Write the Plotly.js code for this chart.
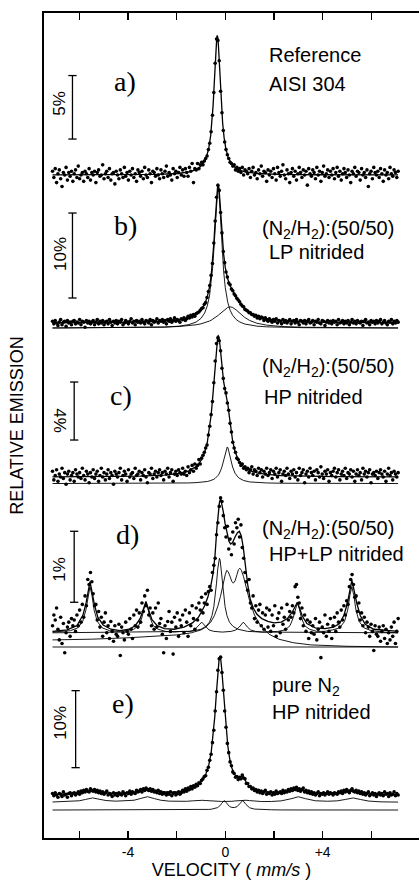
<!DOCTYPE html>
<html><head><meta charset="utf-8">
<script src="https://cdn.plot.ly/plotly-3.0.1.min.js"></script>
<style>html,body{margin:0;padding:0;background:#fff;}#chart{width:419px;height:881px;}</style>
</head><body><div id="chart"></div>
<script>
// ---------- DATA ----------
// channel grid (mm/s): first channel and step, 256 channels
const channelStart = -7.10;
const channelStep = 0.0557;

// a) Reference AISI 304  (relative emission, %)
const dataA = [
0.3,-0.2,0.5,-0.6,0.1,0.4,-0.3,-0.9,0.2,0.0,0.6,-0.4,0.2,-0.1,0.3,-0.5,
0.1,0.4,-0.2,0.7,-0.3,0.0,0.2,-0.5,0.3,0.1,-0.2,0.5,-0.4,0.2,0.0,0.3,
-0.6,0.2,0.4,-0.1,0.0,0.8,-0.3,0.1,0.3,-0.2,0.5,-0.4,0.1,0.2,-0.7,0.3,
0.0,-0.3,0.4,0.1,-0.2,0.6,-0.1,0.2,-0.4,0.3,0.0,0.5,-0.2,0.1,-0.5,0.4,
0.2,-0.1,0.3,-0.3,0.6,0.0,-0.2,0.4,0.1,-0.6,0.3,0.2,-0.1,0.5,0.0,-0.3,
0.4,0.1,-0.2,0.3,0.7,-0.1,0.2,0.0,-0.4,0.5,0.1,0.3,-0.2,0.2,0.6,0.0,
0.4,-0.1,0.5,0.2,-0.1,0.6,0.3,0.9,-0.6,0.5,0.4,0.9,0.5,0.8,1.0,0.8,
1.1,1.3,1.5,2.0,2.5,3.4,4.7,6.5,8.8,10.7,10.6,9.0,6.6,4.9,3.5,2.6,
2.0,1.6,1.3,1.0,0.9,0.7,0.8,0.4,0.6,0.3,0.5,0.2,0.6,0.0,0.4,0.3,
0.1,0.5,-0.2,0.3,0.6,0.0,0.2,-0.3,0.4,0.1,0.7,-0.1,0.3,0.2,-0.5,0.4,
0.0,0.3,-0.2,0.5,0.1,-0.4,0.6,0.2,-0.1,0.3,0.8,0.0,-0.3,0.4,0.1,-0.6,
0.2,0.5,-0.1,0.3,-0.4,0.1,0.6,0.2,-0.2,0.4,0.0,0.3,-0.8,0.5,0.1,-0.1,
0.4,0.2,-0.3,0.6,0.0,0.3,-0.5,0.2,0.7,-0.1,0.1,0.4,-0.2,0.3,0.0,0.5,
-0.3,0.2,0.6,-0.1,0.3,-0.4,0.1,0.5,0.2,-0.2,0.4,0.0,-0.6,0.3,0.1,0.6,
-0.1,0.3,0.2,-0.4,0.5,0.0,0.2,-0.2,0.4,-0.9,0.1,0.3,-0.3,0.6,0.2,0.0,
0.3,-0.2,0.5,0.1,-0.5,0.4,0.0,0.2,-0.3,0.6,0.1,-0.1,0.4,0.2,-0.2,0.3];
const fitAVel = [-7.1,-4.3,-2.83,-1.93,-1.43,-1.13,-0.93,-0.78,-0.68,-0.60,-0.55,-0.50,-0.45,-0.41,-0.38,-0.35,-0.33,-0.31,-0.28,-0.25,-0.21,-0.16,-0.11,-0.05,0.02,0.12,0.27,0.47,0.77,1.27,2.17,3.67,7.1];
const fitATotal = [0.01,0.02,0.05,0.12,0.26,0.48,0.82,1.38,2.10,3.12,4.11,5.50,7.34,9.01,10.12,10.85,11.00,10.85,10.12,9.01,7.34,5.50,4.11,2.96,2.10,1.38,0.82,0.48,0.26,0.12,0.05,0.02,0.01];

// b) (N2/H2):(50/50) LP nitrided
const dataB = [
0.2,-0.1,0.3,0.0,-0.3,0.1,0.4,-0.2,0.1,0.2,-0.4,0.3,0.0,0.1,-0.2,0.2,
0.3,-0.1,0.1,0.0,0.4,-0.2,0.2,0.1,-0.5,0.3,0.0,0.2,-0.1,0.1,0.3,-0.2,
0.1,0.4,-0.1,0.2,0.0,0.3,-0.2,0.1,0.2,-0.1,0.4,0.1,-0.3,0.2,0.0,0.3,
-0.1,0.2,0.1,0.4,-0.2,0.0,0.3,0.1,-0.1,0.2,0.5,0.0,0.2,-0.2,0.3,0.1,
0.2,0.0,0.4,0.1,-0.1,0.3,0.2,0.0,0.4,-0.2,0.3,0.1,0.2,0.5,0.0,0.3,
0.2,0.4,0.1,0.3,-0.1,0.4,0.2,0.5,0.1,0.3,0.6,0.2,0.4,0.3,0.1,0.5,
0.4,0.6,0.3,0.5,0.8,0.6,0.9,0.7,1.0,0.8,1.1,1.2,1.3,1.5,1.7,1.8,
2.2,2.4,3.0,3.7,4.4,5.6,7.0,9.4,12.0,14.8,16.2,15.6,13.0,10.6,8.4,7.1,
6.0,5.4,4.7,4.5,4.0,3.8,3.4,3.2,2.9,2.7,2.5,2.2,2.0,1.9,1.6,1.5,
1.4,1.2,1.2,1.0,1.0,0.8,0.9,0.6,0.8,0.5,0.7,0.6,0.3,0.6,0.4,0.2,
0.5,0.3,0.1,0.4,0.2,0.5,0.0,0.3,0.2,-0.1,0.4,0.1,0.3,0.0,0.2,0.4,
-0.1,0.2,0.3,0.0,0.4,0.1,-0.2,0.3,0.2,0.0,0.3,-0.1,0.2,0.4,0.0,0.1,
0.3,-0.2,0.2,0.1,0.4,0.0,-0.1,0.3,0.2,-0.3,0.1,0.3,0.0,0.2,-0.1,0.3,
0.1,0.2,-0.2,0.4,0.0,0.1,0.3,-0.1,0.2,0.0,0.3,-0.2,0.1,0.4,0.0,0.2,
-0.1,0.3,0.1,0.0,0.2,-0.3,0.2,0.4,0.0,0.1,-0.2,0.3,0.1,0.2,-0.1,0.3,
0.0,0.2,0.4,-0.1,0.1,0.3,0.0,-0.2,0.2,0.1,0.4,-0.1,0.2,0.0,0.3,0.1];
const fitBVel = [-7.1,-5,-3.5,-2.5,-1.9,-1.5,-1.2,-1.0,-0.85,-0.74,-0.65,-0.58,-0.52,-0.47,-0.42,-0.38,-0.34,-0.31,-0.29,-0.26,-0.22,-0.18,-0.13,-0.07,0.0,0.1,0.2,0.3,0.45,0.6,0.8,1.0,1.3,1.7,2.3,3.2,4.5,7.1];
const fitBTotal = [0.03,0.06,0.12,0.23,0.40,0.64,1.03,1.52,2.21,3.07,4.23,5.62,7.39,9.38,11.86,13.96,15.65,16.31,16.36,15.85,14.35,12.44,10.19,8.13,6.51,5.17,4.38,3.79,3.03,2.37,1.68,1.21,0.78,0.48,0.27,0.14,0.07,0.03];
const fitBNarrow = [-0.59,-0.57,-0.54,-0.48,-0.37,-0.19,0.11,0.54,1.17,2.01,3.18,4.63,6.49,8.61,11.27,13.51,15.30,15.95,15.95,15.30,13.51,11.27,8.61,6.14,4.15,2.45,1.49,0.91,0.40,0.11,-0.12,-0.25,-0.37,-0.45,-0.51,-0.55,-0.57,-0.59];
const fitBBroad = [-0.58,-0.57,-0.54,-0.48,-0.41,-0.32,-0.21,-0.10,0.02,0.13,0.23,0.33,0.43,0.51,0.61,0.69,0.78,0.85,0.90,0.98,1.08,1.19,1.32,1.48,1.65,1.83,1.90,1.83,1.53,1.13,0.65,0.30,-0.03,-0.25,-0.41,-0.50,-0.55,-0.58];

// c) (N2/H2):(50/50) HP nitrided
const dataC = [
0.4,-0.2,0.1,0.5,-0.3,0.2,0.0,0.6,-0.1,0.3,-0.5,0.2,0.4,-0.2,0.1,0.3,
-0.3,0.5,0.2,0.0,0.3,-0.1,0.6,0.1,-0.2,0.4,0.2,-0.4,0.3,0.0,0.5,-0.1,
0.2,0.4,-0.3,0.1,0.6,0.0,0.3,-0.2,0.2,0.5,-0.1,0.3,0.1,-0.5,0.4,0.2,
0.0,0.3,0.6,-0.2,0.1,0.4,0.2,-0.3,0.5,0.0,0.2,0.3,-0.1,0.6,0.1,0.2,
0.4,-0.2,0.3,0.1,0.5,0.0,-0.4,0.3,0.2,0.6,-0.1,0.2,0.4,0.0,0.3,0.5,
0.1,0.3,-0.2,0.4,0.2,0.6,0.0,0.3,0.5,-0.3,0.2,0.4,0.1,0.5,0.3,0.2,
0.6,0.2,0.4,0.1,0.7,0.3,0.5,0.8,0.4,0.9,0.6,0.8,1.2,0.9,1.3,1.5,
1.7,2.0,2.2,2.9,3.5,4.3,5.2,6.5,8.0,9.2,9.6,9.4,8.7,7.5,6.8,6.1,
5.8,5.1,4.6,3.7,3.1,2.4,2.0,1.7,1.3,1.2,1.0,0.8,0.9,0.6,0.7,0.5,
0.6,0.3,0.5,0.7,0.2,0.5,0.4,0.1,0.6,0.3,0.5,0.0,0.4,0.2,0.6,0.1,
0.3,0.5,-0.1,0.4,0.2,0.6,0.0,0.3,0.5,-0.3,0.2,0.4,0.1,0.6,0.2,-0.1,
0.4,0.2,0.5,0.0,0.3,-0.2,0.6,0.1,0.3,0.5,-0.4,0.2,0.4,0.0,0.6,0.3,
0.1,0.4,-0.2,0.5,0.3,0.0,0.7,0.2,-0.1,0.4,0.2,0.5,-0.3,0.3,0.1,0.4,
0.6,0.0,0.3,0.5,-0.2,0.2,0.4,0.1,0.6,-0.1,0.3,0.2,0.5,0.0,0.4,-0.3,
0.2,0.5,0.1,0.3,-0.2,0.6,0.2,0.4,0.0,0.3,0.5,-0.4,0.2,0.3,0.1,0.4,
-0.1,0.3,0.5,0.2,0.0,0.4,-0.3,0.2,0.6,0.1,0.3,-0.2,0.4,0.2,0.0,0.3];
const fitCVel = [-7.1,-5,-3.5,-2.5,-1.9,-1.5,-1.2,-1.0,-0.85,-0.74,-0.65,-0.58,-0.52,-0.47,-0.42,-0.38,-0.34,-0.31,-0.29,-0.26,-0.22,-0.18,-0.13,-0.07,0.0,0.05,0.08,0.11,0.16,0.22,0.3,0.4,0.55,0.75,1.0,1.3,1.7,2.3,3.2,4.5,7.1];
const fitCTotal = [0.01,0.03,0.06,0.13,0.25,0.42,0.72,1.12,1.69,2.38,3.29,4.29,5.44,6.58,7.83,8.75,9.44,9.71,9.75,9.62,9.12,8.42,7.49,6.59,5.94,5.57,5.30,4.95,4.27,3.42,2.50,1.75,1.12,0.70,0.44,0.29,0.18,0.10,0.06,0.03,0.01];
const fitCSecond = [-0.45,-0.45,-0.44,-0.44,-0.42,-0.41,-0.39,-0.37,-0.34,-0.31,-0.27,-0.24,-0.20,-0.16,-0.10,-0.05,0.02,0.08,0.12,0.20,0.33,0.49,0.75,1.16,1.72,2.01,2.07,2.01,1.72,1.24,0.69,0.26,-0.06,-0.24,-0.34,-0.38,-0.41,-0.43,-0.44,-0.45,-0.45];

// d) (N2/H2):(50/50) HP+LP nitrided
const dataD = [
0.30,0.45,0.38,0.55,0.25,0.10,0.42,0.05,0.33,-0.08,0.20,0.28,0.35,0.15,0.40,0.30,
0.38,0.22,0.45,0.30,0.52,0.35,0.60,0.42,0.72,0.58,0.95,0.88,1.05,0.92,0.75,0.58,
0.60,0.38,0.50,0.28,0.42,0.15,0.35,0.48,0.20,0.30,0.12,0.36,0.22,0.08,0.30,0.18,
0.15,0.32,-0.12,0.28,0.20,0.10,0.35,0.22,0.18,0.40,0.25,0.12,0.45,0.30,0.52,0.28,
0.48,0.35,0.62,0.50,0.72,0.58,0.80,0.45,0.55,0.30,0.48,0.25,0.55,0.28,0.62,0.33,
0.40,0.18,-0.08,0.30,0.12,0.36,0.50,0.22,0.35,-0.10,0.42,0.28,0.48,0.15,0.38,0.30,
0.45,0.20,0.52,0.35,0.15,0.48,0.30,0.58,0.40,0.25,0.55,0.38,0.62,0.52,0.70,0.48,
0.62,0.75,0.60,0.78,0.85,0.80,1.05,1.15,1.25,1.58,1.75,1.98,2.10,2.05,1.85,1.68,
1.55,1.70,1.38,1.52,1.30,1.62,1.45,1.75,1.68,1.80,1.55,1.72,1.40,1.25,1.05,0.92,
0.80,0.95,0.62,0.55,0.72,0.40,0.58,0.35,0.52,0.60,0.30,0.48,0.25,0.45,0.55,0.28,
0.52,0.22,0.45,0.30,0.58,0.15,0.40,0.48,0.20,0.55,0.32,0.42,0.25,0.60,0.38,0.50,
0.42,0.58,0.48,0.85,0.88,0.70,0.62,0.40,0.55,0.30,0.45,0.22,0.38,0.12,0.35,0.20,
0.30,0.18,0.40,0.10,0.25,0.35,-0.15,0.28,0.20,0.45,0.15,0.32,0.22,0.40,0.12,0.30,
0.42,0.22,0.48,0.35,0.28,0.52,0.38,0.58,0.45,0.65,0.60,0.85,0.95,1.02,0.88,0.70,
0.72,0.50,0.62,0.38,0.48,0.30,0.42,0.20,0.35,0.28,0.15,0.32,0.22,-0.05,0.30,0.18,
0.15,0.28,0.08,0.22,0.30,0.12,0.25,0.05,0.20,0.10,0.28,0.15,0.35,0.05,0.22,0.40];
const fitDVel = [-7.1,-6.5,-6.1,-5.85,-5.72,-5.63,-5.56,-5.49,-5.38,-5.24,-5.02,-4.7,-4.33,-3.95,-3.7,-3.5,-3.37,-3.26,-3.15,-3.02,-2.8,-2.5,-2.1,-1.7,-1.35,-1.1,-0.97,-0.85,-0.72,-0.6,-0.49,-0.42,-0.35,-0.29,-0.24,-0.19,-0.14,-0.08,-0.01,0.07,0.15,0.22,0.3,0.4,0.5,0.58,0.66,0.74,0.83,0.92,1.02,1.15,1.3,1.5,1.75,2.0,2.3,2.55,2.75,2.88,2.96,3.05,3.16,3.35,3.7,4.1,4.45,4.7,4.88,5.02,5.12,5.2,5.28,5.4,5.55,5.75,6.1,6.6,7.1];
const fitDTotal = [0.22,0.24,0.30,0.45,0.62,0.80,0.92,0.80,0.60,0.42,0.31,0.25,0.23,0.25,0.30,0.40,0.53,0.64,0.52,0.39,0.30,0.26,0.25,0.28,0.34,0.42,0.50,0.58,0.70,0.85,1.06,1.30,1.65,1.90,2.04,2.09,2.02,1.90,1.74,1.60,1.49,1.45,1.47,1.55,1.61,1.63,1.56,1.40,1.12,0.88,0.68,0.55,0.46,0.40,0.36,0.34,0.35,0.40,0.49,0.58,0.63,0.55,0.44,0.33,0.27,0.26,0.28,0.33,0.45,0.62,0.82,0.94,0.82,0.62,0.44,0.32,0.25,0.23,0.22];
const sextetDVel = [-7.1,-6.36,-6.06,-5.86,-5.73,-5.64,-5.56,-5.48,-5.39,-5.26,-5.06,-4.76,-4.41,-4.06,-3.76,-3.56,-3.43,-3.34,-3.26,-3.18,-3.09,-2.96,-2.76,-2.46,-2.1,-1.77,-1.47,-1.27,-1.14,-1.05,-0.97,-0.89,-0.8,-0.67,-0.47,-0.12,0.24,0.44,0.57,0.66,0.74,0.82,0.91,1.04,1.24,1.54,1.85,2.16,2.46,2.66,2.79,2.88,2.96,3.04,3.13,3.26,3.46,3.76,4.08,4.4,4.7,4.9,5.03,5.12,5.2,5.28,5.37,5.5,5.7,6.0,6.5,7.1];
const sextetD = [0.21,0.23,0.27,0.36,0.52,0.73,0.85,0.73,0.52,0.36,0.27,0.23,0.22,0.23,0.25,0.30,0.41,0.54,0.62,0.54,0.41,0.30,0.25,0.22,0.21,0.22,0.22,0.24,0.28,0.32,0.35,0.32,0.28,0.24,0.22,0.21,0.22,0.24,0.28,0.32,0.35,0.32,0.28,0.24,0.22,0.21,0.21,0.22,0.24,0.30,0.41,0.54,0.62,0.54,0.41,0.30,0.25,0.22,0.22,0.24,0.27,0.36,0.52,0.73,0.85,0.73,0.52,0.36,0.27,0.23,0.21,0.20];
const singletDVel = [-7.1,-2.0,-1.4,-1.0,-0.8,-0.65,-0.55,-0.47,-0.41,-0.36,-0.31,-0.27,-0.24,-0.21,-0.17,-0.12,-0.07,-0.01,0.07,0.17,0.32,0.52,0.92,1.52,7.1];
const singletD = [0.20,0.21,0.22,0.25,0.29,0.35,0.44,0.57,0.73,0.90,1.10,1.22,1.25,1.22,1.10,0.90,0.73,0.57,0.44,0.35,0.29,0.25,0.22,0.21,0.20];
const doubletDVel = [-7.1,-5.5,-4.0,-3.0,-2.0,-1.4,-1.0,-0.8,-0.6,-0.45,-0.3,-0.2,-0.1,0.0,0.06,0.12,0.2,0.27,0.33,0.4,0.48,0.54,0.6,0.66,0.75,0.85,1.0,1.2,1.45,1.8,2.2,2.8,3.5,5.0,7.1];
const doubletD = [0.10,0.11,0.13,0.15,0.17,0.20,0.24,0.28,0.35,0.44,0.58,0.71,0.88,1.02,1.08,1.06,0.99,0.92,0.90,0.93,1.02,1.09,1.11,1.08,0.99,0.84,0.65,0.45,0.30,0.18,0.11,0.06,0.03,0.01,0.0];
const baseDVel = [-7.1, 7.1];
const baseD = [0.0, 0.0];

// e) pure N2 HP nitrided
const dataE = [
0.2,-0.1,0.3,0.0,-0.3,0.2,0.1,-0.2,0.4,0.0,0.1,-0.3,0.2,0.3,-0.1,0.2,
0.3,0.0,0.2,0.4,0.1,0.5,0.3,0.6,0.4,0.7,0.5,0.4,0.8,0.6,0.5,0.7,
0.4,0.6,0.3,0.5,0.2,0.4,0.1,0.3,0.5,0.0,0.2,0.1,-0.2,0.3,0.0,0.2,
-0.1,0.3,0.1,0.0,0.4,0.2,-0.1,0.3,0.2,0.5,0.1,0.4,0.3,0.2,0.6,0.4,
0.5,0.7,0.4,0.8,0.6,0.9,0.7,0.6,0.8,0.5,0.7,0.4,0.5,0.3,0.6,0.2,
0.4,0.1,0.3,0.2,0.0,0.3,0.1,0.4,-0.1,0.2,0.3,0.0,0.2,0.4,0.1,0.3,
0.6,0.4,0.8,0.5,0.9,0.7,1.1,0.8,1.2,1.0,1.4,1.2,1.6,1.5,1.9,2.1,
2.4,2.5,3.2,3.6,4.5,5.3,6.8,8.4,10.9,13.4,16.2,17.7,17.9,15.9,13.6,10.9,
8.8,6.7,5.5,4.3,3.8,3.0,2.8,2.3,2.4,2.0,2.3,2.1,2.6,2.2,2.1,1.5,
1.5,1.1,1.1,0.8,0.9,0.6,0.7,0.4,0.6,0.3,0.5,0.2,0.4,0.6,0.1,0.3,
0.2,0.4,0.0,0.3,0.1,0.5,0.2,0.3,0.4,0.2,0.6,0.3,0.5,0.4,0.7,0.5,
0.8,0.6,0.9,0.7,1.0,0.6,0.8,0.5,0.7,0.9,0.4,0.6,0.3,0.5,0.2,0.4,
0.1,0.3,0.0,0.2,0.4,-0.1,0.2,0.1,0.3,0.0,0.2,0.4,0.1,0.3,0.2,0.0,
0.3,0.2,0.1,0.4,0.3,0.5,0.2,0.6,0.4,0.7,0.5,0.3,0.6,0.8,0.5,0.4,
0.6,0.3,0.5,0.2,0.4,0.1,0.3,0.0,0.2,0.4,-0.1,0.1,0.3,0.0,0.2,-0.2,
0.1,0.3,0.0,0.2,-0.1,0.4,0.1,0.2,-0.2,0.3,0.0,0.1,0.4,-0.1,0.2,0.0];
const fitEVel = [-7.1,-6.5,-6.0,-5.75,-5.45,-5.15,-4.9,-4.5,-4.0,-3.75,-3.5,-3.2,-2.9,-2.65,-2.3,-1.9,-1.6,-1.3,-1.1,-0.95,-0.8,-0.68,-0.58,-0.5,-0.43,-0.37,-0.32,-0.28,-0.25,-0.22,-0.19,-0.15,-0.1,-0.04,0.03,0.1,0.18,0.27,0.37,0.48,0.6,0.72,0.85,1.0,1.2,1.5,1.9,2.3,2.7,3.0,3.3,3.7,4.2,4.6,4.95,5.25,5.55,5.9,6.4,7.1];
const fitETotal = [0.06,0.10,0.23,0.40,0.60,0.42,0.27,0.20,0.25,0.34,0.57,0.83,0.60,0.43,0.36,0.43,0.62,0.99,1.43,1.91,2.73,3.87,5.51,7.60,10.22,13.06,15.51,17.11,17.84,18.03,17.67,16.49,14.41,11.67,8.73,6.46,4.71,3.51,2.72,2.29,2.29,2.49,1.74,1.10,0.71,0.45,0.34,0.35,0.57,0.81,0.54,0.26,0.19,0.23,0.41,0.60,0.40,0.19,0.09,0.05];
const fitESextet = [-0.91,-0.87,-0.75,-0.58,-0.38,-0.57,-0.72,-0.80,-0.77,-0.68,-0.47,-0.22,-0.48,-0.68,-0.80,-0.85,-0.82,-0.75,-0.69,-0.69,-0.72,-0.76,-0.79,-0.81,-0.82,-0.83,-0.84,-0.84,-0.84,-0.84,-0.84,-0.84,-0.84,-0.85,-0.85,-0.85,-0.84,-0.82,-0.78,-0.74,-0.69,-0.66,-0.68,-0.73,-0.80,-0.85,-0.84,-0.76,-0.49,-0.23,-0.48,-0.75,-0.81,-0.76,-0.57,-0.38,-0.58,-0.79,-0.89,-0.92];
const fitEDoublet = [-1.95,-1.95,-1.95,-1.95,-1.95,-1.95,-1.95,-1.95,-1.95,-1.95,-1.95,-1.94,-1.94,-1.94,-1.94,-1.94,-1.93,-1.93,-1.92,-1.91,-1.89,-1.87,-1.85,-1.81,-1.77,-1.71,-1.64,-1.57,-1.49,-1.40,-1.28,-1.09,-0.84,-0.72,-0.96,-1.28,-1.51,-1.61,-1.63,-1.52,-1.16,-0.71,-1.23,-1.66,-1.83,-1.90,-1.92,-1.94,-1.94,-1.94,-1.95,-1.95,-1.95,-1.95,-1.95,-1.95,-1.95,-1.95,-1.95,-1.95];

// labels
const panelLetters = ['a)', 'b)', 'c)', 'd)', 'e)'];
const scaleBarPercent = [5, 10, 4, 1, 10];
const sampleLine1 = ['Reference', '(N<sub>2</sub>/H<sub>2</sub>):(50/50)', '(N<sub>2</sub>/H<sub>2</sub>):(50/50)', '(N<sub>2</sub>/H<sub>2</sub>):(50/50)', 'pure N<sub>2</sub>'];
const sampleLine2 = ['AISI 304', 'LP nitrided', 'HP nitrided', 'HP+LP nitrided', 'HP nitrided'];
const tickValues = [-6, -4, -2, 0, 2, 4, 6];
const tickLabels = ['', '-4', '', '0', '', '+4', ''];

// ---------- LAYOUT GEOMETRY (pixels) ----------
const W = 419, H = 881, ML = 44, MR = 0, MT = 13, MB = 43;
const plotTop = MT, plotBottom = H - MB, plotH = plotBottom - plotTop, plotW = W - ML - MR;
const zeroPx = [175, 323, 477, 647, 795];     // baseline pixel of each panel
const pxPerPct = [12.7, 8.5, 14.5, 71, 7.7];  // vertical scale of each panel
const barX = [-6.28, -6.28, -6.21, -6.21, -6.15];
const barBase = [2.83, 2.94, 2.55, 0.63, 3.55];
const barLabelX = -6.80;
const barLabelY = [5.67, 8.1, 3.86, 1.1, 9.35];
const barLabelAngle = [-90, -90, 90, -90, -90];
const letterPos = [[125, 82], [125, 225], [121, 395], [127, 534], [123, 703]];
const line1Pos = [[267, 55], [260, 229], [260, 367], [260, 529], [270, 686]];
const line2Pos = [[267, 84], [267, 252], [262, 397], [267, 554], [270, 712]];
const px2paperX = px => (px - ML) / plotW;
const px2paperY = py => (plotBottom - py) / plotH;
const axisName = i => i === 0 ? 'y' : 'y' + (i + 1);
const axisKey = i => i === 0 ? 'yaxis' : 'yaxis' + (i + 1);

// ---------- TRACES ----------
const traces = [];
function pts(y, i) {
  traces.push({type: 'scatter', mode: 'markers', x0: channelStart, dx: channelStep, y: y,
    yaxis: axisName(i), marker: {color: '#000', size: 3.6}, hoverinfo: 'skip'});
}
function curve(x, y, i, w) {
  traces.push({type: 'scatter', mode: 'lines', x: x, y: y, yaxis: axisName(i),
    line: {color: '#000', width: w}, hoverinfo: 'skip'});
}
pts(dataA, 0); curve(fitAVel, fitATotal, 0, 1.3);
pts(dataB, 1); curve(fitBVel, fitBTotal, 1, 1.3); curve(fitBVel, fitBNarrow, 1, 0.9); curve(fitBVel, fitBBroad, 1, 0.9);
pts(dataC, 2); curve(fitCVel, fitCTotal, 2, 1.3); curve(fitCVel, fitCSecond, 2, 0.9);
pts(dataD, 3); curve(fitDVel, fitDTotal, 3, 1.3); curve(sextetDVel, sextetD, 3, 0.9);
curve(singletDVel, singletD, 3, 0.9); curve(doubletDVel, doubletD, 3, 0.9); curve(baseDVel, baseD, 3, 0.9);
pts(dataE, 4); curve(fitEVel, fitETotal, 4, 1.3); curve(fitEVel, fitESextet, 4, 0.9); curve(fitEVel, fitEDoublet, 4, 0.9);

// ---------- LAYOUT ----------
const layout = {
  width: W, height: H, margin: {l: ML, r: MR, t: MT, b: MB, pad: 0},
  paper_bgcolor: '#fff', plot_bgcolor: '#fff', showlegend: false,
  font: {family: 'Liberation Sans, Arial, sans-serif', color: '#000'},
  xaxis: {range: [-7.45, 7.96], tickvals: tickValues, ticktext: tickLabels,
    ticks: 'inside', ticklen: 7, tickwidth: 1.5, tickcolor: '#000',
    showline: true, linecolor: '#000', linewidth: 2, mirror: 'ticks',
    showgrid: false, zeroline: false, tickfont: {size: 14}, anchor: 'y',
    title: {text: 'VELOCITY ( <i>mm/s</i> )', font: {size: 18}, standoff: 2}},
  shapes: [], annotations: []
};
for (let i = 0; i < 5; i++) {
  const lo = -(plotBottom - zeroPx[i]) / pxPerPct[i];
  const hi = (zeroPx[i] - plotTop) / pxPerPct[i];
  const ax = {range: [lo, hi], domain: [0, 1], showgrid: false, zeroline: false,
    ticks: '', showticklabels: false, fixedrange: true};
  if (i === 0) {
    Object.assign(ax, {showline: true, linecolor: '#000', linewidth: 2,
      title: {text: 'RELATIVE EMISSION', font: {size: 18}, standoff: 14}});
  } else {
    Object.assign(ax, {overlaying: 'y', visible: false, anchor: 'x'});
  }
  layout[axisKey(i)] = ax;
  const yr = axisName(i);
  const b0 = barBase[i], b1 = barBase[i] + scaleBarPercent[i];
  layout.shapes.push({type: 'line', xref: 'x', yref: yr, x0: barX[i], x1: barX[i], y0: b0, y1: b1, line: {color: '#000', width: 1.3}});
  layout.shapes.push({type: 'line', xref: 'x', yref: yr, x0: barX[i] - 0.17, x1: barX[i] + 0.17, y0: b0, y1: b0, line: {color: '#000', width: 1.3}});
  layout.shapes.push({type: 'line', xref: 'x', yref: yr, x0: barX[i] - 0.17, x1: barX[i] + 0.17, y0: b1, y1: b1, line: {color: '#000', width: 1.3}});
  layout.annotations.push({xref: 'x', yref: yr, x: barLabelX, y: barLabelY[i], text: scaleBarPercent[i] + '%',
    textangle: barLabelAngle[i], showarrow: false, font: {size: 17}, xanchor: 'center', yanchor: 'middle'});
  layout.annotations.push({xref: 'paper', yref: 'paper', x: px2paperX(letterPos[i][0]), y: px2paperY(letterPos[i][1]),
    text: panelLetters[i], showarrow: false, font: {size: 28, family: 'Liberation Serif, Times New Roman, serif'},
    xanchor: 'center', yanchor: 'middle'});
  layout.annotations.push({xref: 'paper', yref: 'paper', x: px2paperX(line1Pos[i][0]), y: px2paperY(line1Pos[i][1]),
    text: sampleLine1[i], showarrow: false, font: {size: 20}, xanchor: 'left', yanchor: 'middle'});
  layout.annotations.push({xref: 'paper', yref: 'paper', x: px2paperX(line2Pos[i][0]), y: px2paperY(line2Pos[i][1]),
    text: sampleLine2[i], showarrow: false, font: {size: 20}, xanchor: 'left', yanchor: 'middle'});
}
Plotly.newPlot('chart', traces, layout, {staticPlot: true, displayModeBar: false});
</script></body></html>
